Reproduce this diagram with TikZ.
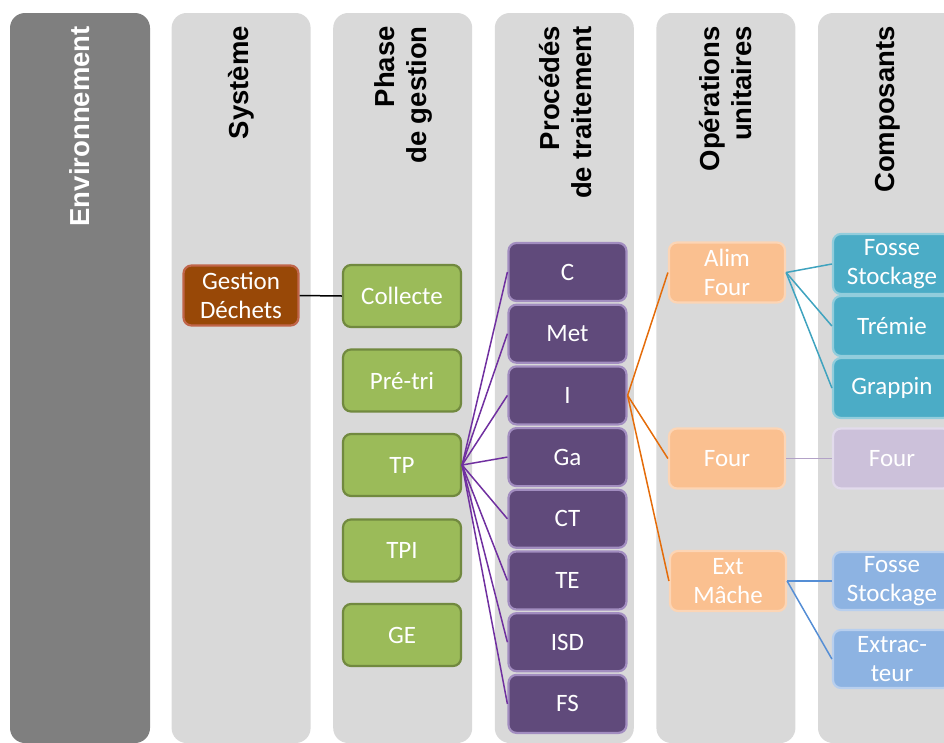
\documentclass[tikz,border=0pt]{standalone}
\usepackage{fontspec}
\setmainfont{Carlito}
\newfontfamily\headfont{Liberation Sans}
\usepackage{xcolor}
\usetikzlibrary{positioning}

\definecolor{envgray}{HTML}{7F7F7F}
\definecolor{colgray}{HTML}{D9D9D9}
\definecolor{gdfill}{HTML}{984807}
\definecolor{gdline}{HTML}{C0654A}
\definecolor{phfill}{HTML}{9BBB59}
\definecolor{phline}{HTML}{71893F}
\definecolor{prfill}{HTML}{604A7B}
\definecolor{prline}{HTML}{A28DC0}
\definecolor{prwire}{HTML}{7030A0}
\definecolor{opfill}{HTML}{FAC090}
\definecolor{opline}{HTML}{FCD5B5}
\definecolor{opwire}{HTML}{E46C0A}
\definecolor{tlfill}{HTML}{4BACC6}
\definecolor{tlline}{HTML}{92CDDC}
\definecolor{tlwire}{HTML}{3FA3BF}
\definecolor{lcfill}{HTML}{CCC1DA}
\definecolor{lcline}{HTML}{E2DBEC}
\definecolor{lcwire}{HTML}{B3A2C7}
\definecolor{blfill}{HTML}{8DB3E2}
\definecolor{blline}{HTML}{B8CFEE}
\definecolor{blwire}{HTML}{558ED5}

\begin{document}
\begin{tikzpicture}[x=1pt, y=-1pt,
  header/.style={rotate=90, anchor=east, align=right, inner sep=0pt,
    font=\headfont\bfseries\fontsize{27.5}{32}\selectfont},
  box/.style={draw, rounded corners=8pt, line width=2.2pt, text=white,
    minimum width=118pt, minimum height=60pt, align=center, inner sep=1pt,
    font=\fontsize{25}{29.5}\selectfont},
  gdbox/.style={box, fill=gdfill, draw=gdline, minimum width=115pt},
  phbox/.style={box, fill=phfill, draw=phline, minimum height=62pt},
  prbox/.style={box, fill=prfill, draw=prline, minimum height=58pt},
  opbox/.style={box, fill=opfill, draw=opline, minimum width=116pt},
  tlbox/.style={box, fill=tlfill, draw=tlline},
  lcbox/.style={box, fill=lcfill, draw=lcline},
  blbox/.style={box, fill=blfill, draw=blline, minimum height=58pt},
  wire/.style={line width=1.5pt}]

\useasboundingbox (0,0) rectangle (944,742);

% Column backgrounds
\fill[envgray, rounded corners=15pt] (10,13) rectangle (150,743);
\foreach \x in {171.6, 333.2, 494.8, 656.4, 818}
  \fill[colgray, rounded corners=15pt] (\x,13) rectangle (\x+139,743);

% Column titles
\node[header, text=white] (henv) at (80,26) {Environnement};
\node[header] (hsys) at (241,26) {Système};
\node[header] (hpha) at (403,26) {Phase\\de gestion};
\node[header] (hpro) at (566,26) {Procédés\\de traitement};
\node[header] (hope) at (726,26) {Opérations\\unitaires};
\node[header] (hcom) at (888,26) {Composants};

% Systeme
\node[gdbox] (gd) at (241,295.5) {Gestion\\Déchets};

% Phases de gestion
\node[phbox] (collecte) at (402,296) {Collecte};
\node[phbox] (pretri) at (402,380.5) {Pré-tri};
\node[phbox] (tp) at (402,465) {TP};
\node[phbox] (tpi) at (402,550.5) {TPI};
\node[phbox] (ge) at (402,635) {GE};

% Procedes de traitement
\foreach \name/\lbl [count=\i from 0] in {pC/C, pMet/Met, pI/I, pGa/Ga, pCT/CT, pTE/TE, pISD/ISD, pFS/FS}
  \node[prbox] (\name) at (567.5,272+61.7*\i) {\lbl};

% Operations unitaires
\node[opbox] (alim) at (727,272.5) {Alim\\Four};
\node[opbox] (four) at (727,458.5) {Four};
\node[opbox] (ext) at (728,581) {Ext\\Mâche};

% Composants
\node[tlbox] (fosse1) at (892,264) {Fosse\\Stockage};
\node[tlbox] (tremie) at (892,326) {Trémie};
\node[tlbox] (grappin) at (892,388) {Grappin};
\node[lcbox] (fourc) at (892,458.5) {Four};
\node[blbox] (fosse2) at (892,581) {Fosse\\Stockage};
\node[blbox] (extrac) at (892,659) {Extrac-\\teur};

% Connections
\draw[wire, black] (gd.east) -- (collecte.west);
\foreach \name in {pC, pMet, pI, pGa, pCT, pTE, pISD, pFS}
  \draw[wire, prwire] (tp.east) -- (\name.west);
\foreach \name in {alim, four, ext}
  \draw[wire, opwire] (pI.east) -- (\name.west);
\foreach \name in {fosse1, tremie, grappin}
  \draw[wire, tlwire] (alim.east) -- (\name.west);
\draw[wire, lcwire] (four.east) -- (fourc.west);
\draw[wire, blwire] (ext.east) -- (fosse2.west);
\draw[wire, blwire] (ext.east) -- (extrac.west);

\end{tikzpicture}
\end{document}
